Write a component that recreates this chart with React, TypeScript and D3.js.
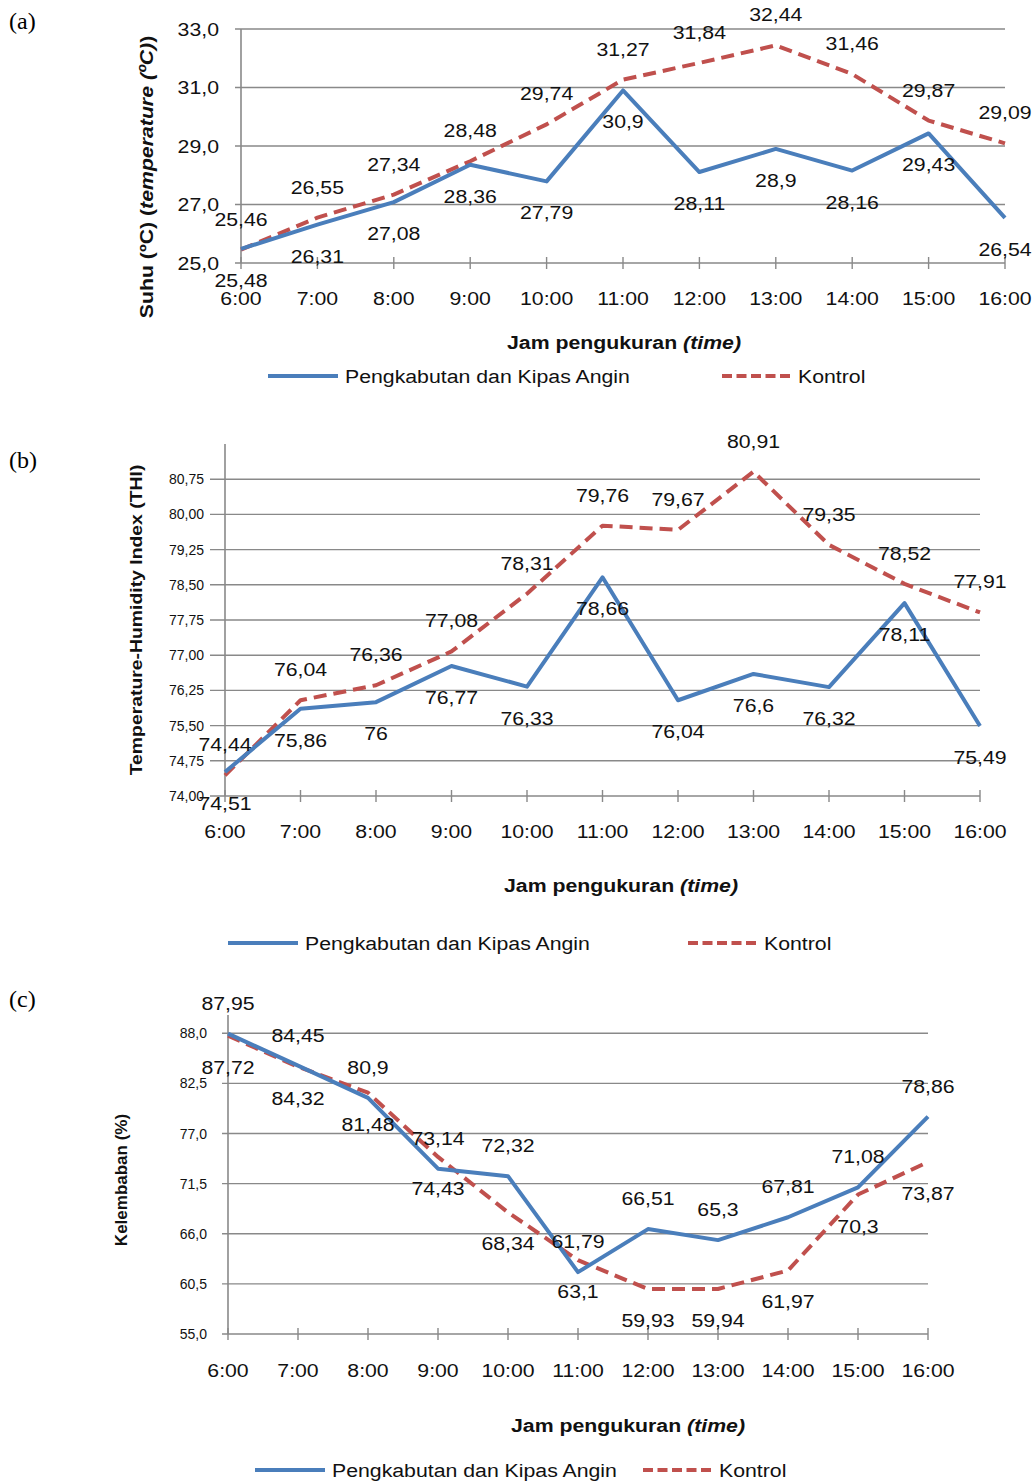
import * as d3 from "d3";

const hours = ["6:00", "7:00", "8:00", "9:00", "10:00", "11:00", "12:00", "13:00", "14:00", "15:00", "16:00"];

// (a) suhu
const suhuKipas = [25.48, 26.31, 27.08, 28.36, 27.79, 30.9, 28.11, 28.9, 28.16, 29.43, 26.54];
const suhuKontrol = [25.46, 26.55, 27.34, 28.48, 29.74, 31.27, 31.84, 32.44, 31.46, 29.87, 29.09];
const suhuTicks = [25, 27, 29, 31, 33];

// (b) THI
const thiKipas = [74.51, 75.86, 76, 76.77, 76.33, 78.66, 76.04, 76.6, 76.32, 78.11, 75.49];
const thiKontrol = [74.44, 76.04, 76.36, 77.08, 78.31, 79.76, 79.67, 80.91, 79.35, 78.52, 77.91];
const thiTicks = [74, 74.75, 75.5, 76.25, 77, 77.75, 78.5, 79.25, 80, 80.75];

// (c) kelembaban
const rhKipas = [87.95, 84.45, 80.9, 73.14, 72.32, 61.79, 66.51, 65.3, 67.81, 71.08, 78.86];
const rhKontrol = [87.72, 84.32, 81.48, 74.43, 68.34, 63.1, 59.93, 59.94, 61.97, 70.3, 73.87];
const rhTicks = [55, 60.5, 66, 71.5, 77, 82.5, 88];

const seriesNames = ["Pengkabutan dan Kipas Angin", "Kontrol"];

const BLUE = "#4a7ebb";
const RED = "#c0504d";
const GRID = "#898989";
const SANS = "'Liberation Sans', Arial, sans-serif";
const SX = 1.12; // the source text is a bit wider than plain Arial

const comma = (v: number) => String(v).replace(".", ",");

// text stretched horizontally (or along its direction when rotated)
function T({ x, y, rot = 0, sx = SX, children, ...rest }: any) {
  return (
    <text transform={`translate(${x},${y}) rotate(${rot}) scale(${sx},1)`} fill="#111" {...rest}>
      {children}
    </text>
  );
}

function Panel(p: any) {
  const x = d3.scalePoint<string>().domain(hours).range([p.x0, p.x1]);
  const y = d3.scaleLinear().domain(p.domain).range(p.range);
  const line = d3
    .line<number>()
    .x((_, i) => x(hours[i])!)
    .y((d) => y(d));
  const fmt = (v: number) => v.toFixed(p.digits).replace(".", ",");
  const bottom = p.range[0];
  const off = 31;
  const lab = (vals: number[], above: boolean, key: string) =>
    vals.map((v, i) => (
      <T key={key + i} x={x(hours[i])} y={y(v) + (above ? -off : off) + 7} textAnchor="middle" fontSize={19}>
        {comma(v)}
      </T>
    ));
  return (
    <g fontFamily={SANS}>
      <text x={9} y={p.tagY} fontFamily="'Liberation Serif', 'Times New Roman', serif" fontSize={24}>
        {p.tag}
      </text>
      {p.ticks.map((t: number) => (
        <g key={t}>
          <line x1={p.gridLeft} x2={p.x1} y1={y(t)} y2={y(t)} stroke={GRID} strokeWidth={1.4} />
          <T x={p.tickRight} y={y(t) + p.tickFont * 0.36} sx={p.tickSx} textAnchor="end" fontSize={p.tickFont}>
            {fmt(t)}
          </T>
        </g>
      ))}
      <line x1={p.x0} x2={p.x0} y1={p.range[1]} y2={bottom} stroke={GRID} strokeWidth={1.6} />
      {hours.map((h) => (
        <g key={h}>
          <line x1={x(h)} x2={x(h)} y1={bottom - 6} y2={bottom + 6} stroke={GRID} strokeWidth={1.4} />
          <T x={x(h)} y={p.xLabelY} textAnchor="middle" fontSize={19}>
            {h}
          </T>
        </g>
      ))}
      <path d={line(p.kontrol)!} fill="none" stroke={RED} strokeWidth={4} strokeDasharray="13,7" strokeLinejoin="round" />
      <path d={line(p.kipas)!} fill="none" stroke={BLUE} strokeWidth={4} strokeLinejoin="round" />
      {lab(p.kipas, p.kipasAbove, "k")}
      {lab(p.kontrol, !p.kipasAbove, "c")}
      <T x={p.titleX} y={p.titleY} rot={-90} sx={p.titleSx} textAnchor="middle" fontSize={p.titleFont} fontWeight="bold">
        {p.title}
      </T>
      <T x={p.xTitleX} y={p.xTitleY} textAnchor="middle" fontSize={19} fontWeight="bold">
        Jam pengukuran <tspan fontStyle="italic">(time)</tspan>
      </T>
      <line x1={p.leg[0]} x2={p.leg[0] + 70} y1={p.legendY} y2={p.legendY} stroke={BLUE} strokeWidth={4} />
      <T x={p.leg[0] + 77} y={p.legendY + 7} fontSize={19}>
        {seriesNames[0]}
      </T>
      <line
        x1={p.leg[1]}
        x2={p.leg[1] + 69}
        y1={p.legendY}
        y2={p.legendY}
        stroke={RED}
        strokeWidth={4}
        strokeDasharray="10,4.5"
      />
      <T x={p.leg[1] + 76} y={p.legendY + 7} fontSize={19}>
        {seriesNames[1]}
      </T>
    </g>
  );
}

export default function App() {
  return (
    <svg width={1033} height={1484} style={{ position: "absolute", left: 0, top: 0, background: "#fff" }}>
      <Panel
        tag="(a)"
        tagY={29}
        x0={241}
        x1={1005}
        domain={[25, 33]}
        range={[263, 29]}
        ticks={suhuTicks}
        digits={1}
        tickFont={19}
        tickSx={SX}
        tickRight={219}
        gridLeft={235}
        xLabelY={305}
        title={
          <>
            Suhu (ºC) (<tspan fontStyle="italic">temperature (ºC)</tspan>)
          </>
        }
        titleX={153}
        titleY={177}
        titleFont={19}
        titleSx={SX}
        xTitleX={624}
        xTitleY={349}
        legendY={376}
        leg={[268, 722]}
        kipas={suhuKipas}
        kontrol={suhuKontrol}
        kipasAbove={false}
      />
      <Panel
        tag="(b)"
        tagY={468}
        x0={225}
        x1={980}
        domain={[74, 81.5]}
        range={[796, 444]}
        ticks={thiTicks}
        digits={2}
        tickFont={14}
        tickSx={1}
        tickRight={204}
        gridLeft={210}
        xLabelY={838}
        title="Temperature-Humidity Index  (THI)"
        titleX={142}
        titleY={620}
        titleFont={17}
        titleSx={1.14}
        xTitleX={621}
        xTitleY={892}
        legendY={943}
        leg={[228, 688]}
        kipas={thiKipas}
        kontrol={thiKontrol}
        kipasAbove={false}
      />
      <Panel
        tag="(c)"
        tagY={1007}
        x0={228}
        x1={928}
        domain={[55, 90]}
        range={[1334, 1015]}
        ticks={rhTicks}
        digits={1}
        tickFont={14}
        tickSx={1}
        tickRight={207}
        gridLeft={222}
        xLabelY={1377}
        title="Kelembaban (%)"
        titleX={127}
        titleY={1180}
        titleFont={17}
        titleSx={1}
        xTitleX={628}
        xTitleY={1432}
        legendY={1470}
        leg={[255, 643]}
        kipas={rhKipas}
        kontrol={rhKontrol}
        kipasAbove={true}
      />
    </svg>
  );
}
